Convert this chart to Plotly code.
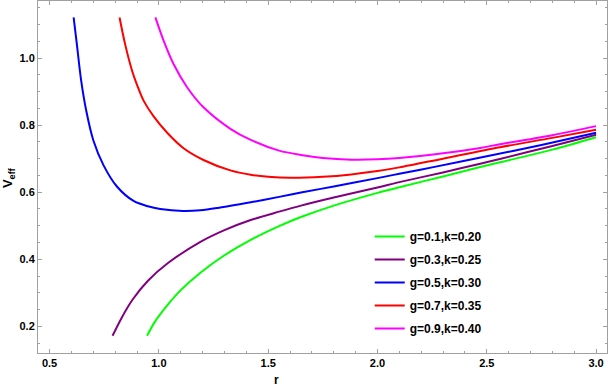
import plotly.graph_objects as go

# values
r_g01 = [0.946, 0.98, 1.04, 1.10, 1.19, 1.30, 1.42, 1.55, 1.65, 1.80, 2.00, 2.10, 2.30, 2.47, 2.56, 2.80, 3.00]
v_g01 = [0.172, 0.212, 0.264, 0.308, 0.360, 0.412, 0.458, 0.499, 0.526, 0.560, 0.598, 0.615, 0.647, 0.675, 0.689, 0.727, 0.764]

r_g03 = [0.788, 0.83, 0.88, 0.95, 1.04, 1.19, 1.30, 1.42, 1.55, 1.65, 1.80, 2.00, 2.10, 2.30, 2.47, 2.56, 2.80, 3.00]
v_g03 = [0.172, 0.226, 0.280, 0.336, 0.388, 0.452, 0.487, 0.517, 0.542, 0.560, 0.584, 0.614, 0.630, 0.659, 0.685, 0.699, 0.738, 0.771]

r_g05 = [0.610, 0.625, 0.644, 0.668, 0.700, 0.747, 0.808, 0.884, 0.95, 1.006, 1.11, 1.19, 1.27, 1.42, 1.55, 1.65, 1.80, 2.00, 2.10, 2.25, 2.50, 2.75, 3.00]
v_g05 = [1.121, 1.040, 0.935, 0.842, 0.755, 0.680, 0.617, 0.574, 0.558, 0.550, 0.544, 0.546, 0.553, 0.570, 0.586, 0.599, 0.617, 0.642, 0.655, 0.674, 0.707, 0.741, 0.777]

r_g07 = [0.820, 0.846, 0.877, 0.900, 0.930, 0.976, 1.037, 1.113, 1.204, 1.327, 1.42, 1.50, 1.60, 1.75, 1.88, 2.00, 2.10, 2.30, 2.56, 2.80, 3.00]
v_g07 = [1.121, 1.040, 0.963, 0.920, 0.873, 0.826, 0.778, 0.731, 0.696, 0.665, 0.652, 0.646, 0.643, 0.646, 0.653, 0.663, 0.674, 0.700, 0.734, 0.762, 0.786]

r_g09 = [0.984, 1.022, 1.067, 1.129, 1.204, 1.327, 1.42, 1.55, 1.65, 1.75, 1.88, 2.00, 2.10, 2.30, 2.47, 2.56, 2.80, 3.00]
v_g09 = [1.121, 1.051, 0.982, 0.913, 0.853, 0.789, 0.756, 0.724, 0.711, 0.702, 0.697, 0.698, 0.702, 0.716, 0.732, 0.743, 0.770, 0.797]

series = [
    ("g=0.1,k=0.20", r_g01, v_g01, "#00ff00"),
    ("g=0.3,k=0.25", r_g03, v_g03, "#800080"),
    ("g=0.5,k=0.30", r_g05, v_g05, "#0000ff"),
    ("g=0.7,k=0.35", r_g07, v_g07, "#ff0000"),
    ("g=0.9,k=0.40", r_g09, v_g09, "#ff00ff"),
]

FONT = "Liberation Sans, Arial, sans-serif"

fig = go.Figure()
for name, r, v, col in series:
    fig.add_trace(go.Scatter(
        x=r, y=v, mode="lines", name=name, legendgroup=name,
        line=dict(color=col, width=2, shape="spline", smoothing=0.9),
    ))

axis_common = dict(
    showline=True, linecolor="#a0a0a0", linewidth=1, mirror="ticks",
    ticks="inside", ticklen=4, tickcolor="#a0a0a0", tickwidth=1,
    showgrid=False, zeroline=False,
    tickfont=dict(family=FONT, size=11, color="black", weight="bold"),
)

fig.update_layout(
    width=608, height=387,
    margin=dict(l=38, r=1, t=1, b=34),
    paper_bgcolor="white", plot_bgcolor="white",
    showlegend=True,
    legend=dict(
        x=0.583, y=0.372, xanchor="left", yanchor="top",
        bgcolor="rgba(0,0,0,0)", tracegroupgap=4,
        font=dict(family=FONT, size=12, color="black", weight="bold"),
    ),
    xaxis=dict(
        range=[0.447, 3.05], tickvals=[0.5, 1.0, 1.5, 2.0, 2.5, 3.0],
        ticktext=["0.5", "1.0", "1.5", "2.0", "2.5", "3.0"],
        minor=dict(dtick=0.1, tick0=0.5, ticks="inside", ticklen=2, tickcolor="#a0a0a0"),
        **axis_common,
    ),
    yaxis=dict(
        range=[0.1206, 1.17], tickvals=[0.2, 0.4, 0.6, 0.8, 1.0],
        ticktext=["0.2", "0.4", "0.6", "0.8", "1.0"],
        minor=dict(dtick=0.05, tick0=0.0, ticks="inside", ticklen=2, tickcolor="#a0a0a0"),
        **axis_common,
    ),
    annotations=[
        dict(text="r", xref="x", yref="paper", x=1.54, y=-0.078,
             xanchor="center", yanchor="middle", showarrow=False,
             font=dict(family=FONT, size=12, color="black", weight="bold")),
        dict(text="V<sub>eff</sub>", xref="paper", yref="paper", x=-0.0527, y=0.497,
             xanchor="center", yanchor="middle", textangle=-90, showarrow=False,
             font=dict(family=FONT, size=13, color="black", weight="bold")),
    ],
)

# drop the browser's default 8px body margin so the figure sits at the page corner
fig.write_html("out.html", config={"displayModeBar": False},
               post_script="document.body.style.margin='0';")
